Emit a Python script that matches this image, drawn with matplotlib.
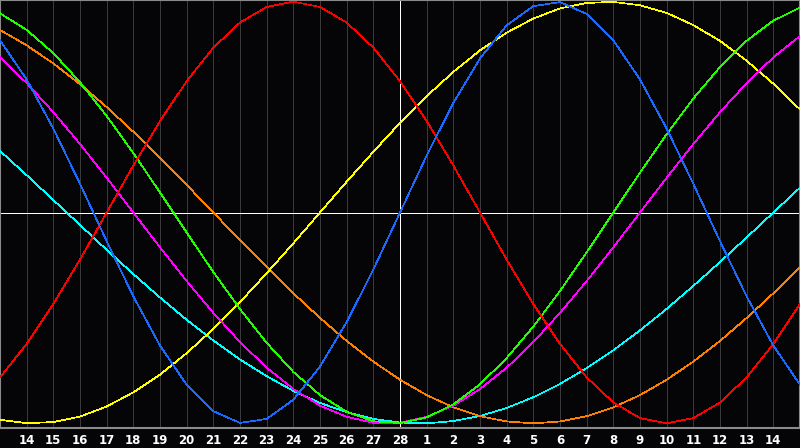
import numpy as np
import matplotlib
matplotlib.use("Agg")
import matplotlib.pyplot as plt

# days shown on the chart (Feb 13 .. Mar 15), today = Feb 28 in the middle
days = ["13", "14", "15", "16", "17", "18", "19", "20", "21", "22", "23", "24", "25", "26", "27", "28",
        "1", "2", "3", "4", "5", "6", "7", "8", "9", "10", "11", "12", "13", "14", "15"]
today = 15

# cycle values per day, -1 .. 1
physical = [0.817, 0.631, 0.398, 0.136, -0.136, -0.398, -0.631, -0.817, -0.942, -0.998, -0.979,
            -0.888, -0.731, -0.520, -0.270, 0.0, 0.270, 0.520, 0.731, 0.888, 0.979, 0.998,
            0.942, 0.817, 0.631, 0.398, 0.136, -0.136, -0.398, -0.631, -0.817]
emotional = [-0.782, -0.623, -0.434, -0.223, 0.0, 0.223, 0.434, 0.623, 0.782, 0.901, 0.975,
             1.0, 0.975, 0.901, 0.782, 0.623, 0.434, 0.223, 0.0, -0.223, -0.434, -0.623,
             -0.782, -0.901, -0.975, -1.0, -0.975, -0.901, -0.782, -0.623, -0.434]
intellectual = [0.945, 0.866, 0.756, 0.618, 0.458, 0.282, 0.095, -0.095, -0.282, -0.458, -0.618,
                -0.756, -0.866, -0.945, -0.990, -0.999, -0.972, -0.910, -0.815, -0.690, -0.541,
                -0.372, -0.189, 0.0, 0.189, 0.372, 0.541, 0.690, 0.815, 0.910, 0.972]
intuitive = [0.736, 0.614, 0.476, 0.325, 0.165, 0.0, -0.165, -0.325, -0.476, -0.614, -0.736,
             -0.837, -0.916, -0.969, -0.997, -0.997, -0.969, -0.916, -0.837, -0.736, -0.614,
             -0.476, -0.325, -0.165, 0.0, 0.165, 0.325, 0.476, 0.614, 0.736, 0.837]
aesthetic = [-0.983, -0.999, -0.994, -0.968, -0.920, -0.853, -0.769, -0.667, -0.552, -0.425, -0.288,
             -0.146, 0.0, 0.146, 0.288, 0.425, 0.552, 0.667, 0.769, 0.853, 0.920,
             0.968, 0.994, 0.999, 0.983, 0.947, 0.889, 0.814, 0.720, 0.611, 0.489]
awareness = [0.866, 0.793, 0.707, 0.609, 0.5, 0.383, 0.259, 0.131, 0.0, -0.131, -0.259,
             -0.383, -0.5, -0.609, -0.707, -0.793, -0.866, -0.924, -0.966, -0.991, -1.0,
             -0.991, -0.966, -0.924, -0.866, -0.793, -0.707, -0.609, -0.5, -0.383, -0.259]
spiritual = [0.292, 0.177, 0.059, -0.059, -0.177, -0.292, -0.403, -0.509, -0.607, -0.697, -0.776,
             -0.846, -0.903, -0.947, -0.979, -0.996, -1.0, -0.989, -0.965, -0.927, -0.876,
             -0.813, -0.738, -0.653, -0.559, -0.457, -0.348, -0.235, -0.118, 0.0, 0.118]

bg = "#050508"
x = np.arange(len(days))

fig = plt.figure(figsize=(8, 4.48), dpi=100, facecolor=bg)
ax = fig.add_axes([0, 20 / 448, 1, 428 / 448])
ax.set_facecolor(bg)

# day grid
thin = 0.5
for xi in x[1:-1]:
    ax.axvline(xi, color="#3a3a3a", lw=thin, antialiased=False, zorder=1)
ax.axvline(today, color="white", lw=thin, antialiased=False, zorder=2)
ax.axhline(0, color="white", lw=thin, antialiased=False, zorder=2)

ax.plot(x, spiritual, color="#00ffff", lw=thin, antialiased=False, zorder=3)
ax.plot(x, awareness, color="#ff8000", lw=thin, antialiased=False, zorder=3)
ax.plot(x, aesthetic, color="#ffff00", lw=thin, antialiased=False, zorder=3)
ax.plot(x, intuitive, color="#ff00ff", lw=thin, antialiased=False, zorder=3)
ax.plot(x, intellectual, color="#22ff00", lw=thin, antialiased=False, zorder=3)
ax.plot(x, emotional, color="#ff0000", lw=thin, antialiased=False, zorder=3)
ax.plot(x, physical, color="#1a6aff", lw=thin, antialiased=False, zorder=3)

ax.set_xlim(x[0], x[-1])
ax.set_ylim(-1.022, 1.008)
ax.set_yticks([])
ax.set_xticks(x[1:-1])
ax.set_xticklabels(days[1:-1], color="white", fontsize=8.5, fontweight="bold")
ax.tick_params(axis="x", length=0, pad=4)

for s in ax.spines.values():
    s.set_color("#8a8a8a")
    s.set_linewidth(1.5)

fig.savefig("out.png", dpi=100, facecolor=bg)
